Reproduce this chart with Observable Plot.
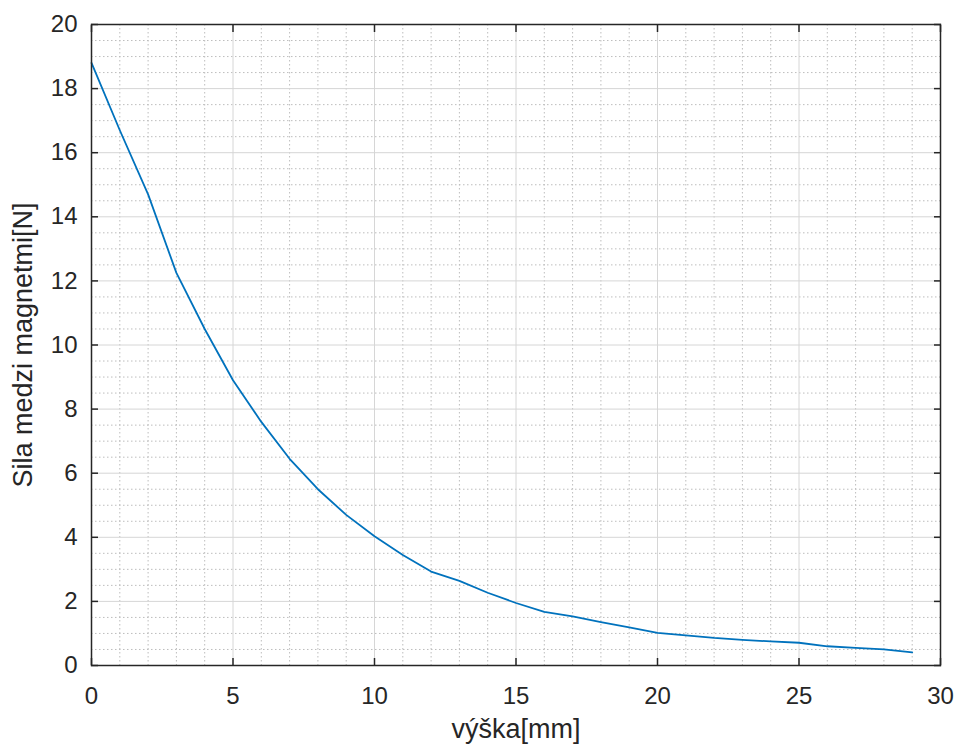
<!DOCTYPE html>
<html>
<head>
<meta charset="utf-8">
<script src="https://cdn.jsdelivr.net/npm/d3@7"></script>
<script src="https://cdn.jsdelivr.net/npm/@observablehq/plot@0.6"></script>
<style>
  html, body { margin: 0; padding: 0; background: #fff; }
  svg { display: block; }
</style>
</head>
<body>
<div id="chart"></div>
<script>
// Data
const heightMm = [0, 1, 2, 3, 4, 5, 6, 7, 8, 9, 10, 11, 12, 13, 14, 15, 16, 17, 18, 19, 20, 21, 22, 23, 24, 25, 26, 27, 28, 29];
const forceN = [18.8, 16.7, 14.7, 12.25, 10.5, 8.9, 7.6, 6.45, 5.5, 4.7, 4.03, 3.45, 2.93, 2.64, 2.27, 1.95, 1.67, 1.53, 1.35, 1.19, 1.02, 0.94, 0.86, 0.8, 0.75, 0.71, 0.6, 0.55, 0.5, 0.41];

const xTicks = [0, 5, 10, 15, 20, 25, 30];
const yTicks = [0, 2, 4, 6, 8, 10, 12, 14, 16, 18, 20];
const xMinorTicks = [1, 2, 3, 4, 6, 7, 8, 9, 11, 12, 13, 14, 16, 17, 18, 19, 21, 22, 23, 24, 26, 27, 28, 29];
const yMinorTicks = [0.5, 1, 1.5, 2.5, 3, 3.5, 4.5, 5, 5.5, 6.5, 7, 7.5, 8.5, 9, 9.5, 10.5, 11, 11.5, 12.5, 13, 13.5, 14.5, 15, 15.5, 16.5, 17, 17.5, 18.5, 19, 19.5];

const xLabel = "výška[mm]";
const yLabel = "Sila medzi magnetmi[N]";

const data = heightMm.map((x, i) => ({x, y: forceN[i]}));

const ink = "#262626";
const tickFont = 24;
const labelFont = 27;

const chart = Plot.plot({
  width: 958,
  height: 746,
  marginLeft: 91,
  marginRight: 18,
  marginTop: 24,
  marginBottom: 81,
  style: {fontFamily: "'Liberation Sans', Arial, Helvetica, sans-serif", background: "#fff", color: ink},
  x: {domain: [0, 30]},
  y: {domain: [0, 20]},
  marks: [
    // minor grid (dotted)
    Plot.gridX(xMinorTicks, {stroke: "#bdbdbd", strokeOpacity: 1, strokeWidth: 1, strokeDasharray: "1.5,2.5"}),
    Plot.gridY(yMinorTicks, {stroke: "#bdbdbd", strokeOpacity: 1, strokeWidth: 1, strokeDasharray: "1.5,2.5"}),
    // major grid (solid)
    Plot.gridX(xTicks, {stroke: "#d6d6d6", strokeOpacity: 1, strokeWidth: 1}),
    Plot.gridY(yTicks, {stroke: "#d6d6d6", strokeOpacity: 1, strokeWidth: 1}),
    // data line
    Plot.line(data, {x: "x", y: "y", stroke: "#0072BD", strokeWidth: 1.8}),
    // box
    Plot.frame({stroke: ink, strokeWidth: 1.5}),
    // inward ticks on all four sides
    Plot.axisX(xTicks, {anchor: "bottom", tickSize: -7, text: null, label: null, stroke: ink, strokeWidth: 1.5}),
    Plot.axisX(xTicks, {anchor: "top", tickSize: -7, text: null, label: null, stroke: ink, strokeWidth: 1.5}),
    Plot.axisY(yTicks, {anchor: "left", tickSize: -7, text: null, label: null, stroke: ink, strokeWidth: 1.5}),
    Plot.axisY(yTicks, {anchor: "right", tickSize: -7, text: null, label: null, stroke: ink, strokeWidth: 1.5}),
    // tick labels
    Plot.axisX(xTicks, {anchor: "bottom", tickSize: 0, tickPadding: 21, label: null, fontSize: tickFont, fill: ink}),
    Plot.axisY(yTicks, {anchor: "left", tickSize: 0, tickPadding: 14, label: null, fontSize: tickFont, fill: ink}),
    // axis titles
    Plot.text([xLabel], {frameAnchor: "bottom", lineAnchor: "middle", textAnchor: "middle", dy: 64, fontSize: labelFont, fill: ink}),
    Plot.text([yLabel], {frameAnchor: "left", lineAnchor: "middle", textAnchor: "middle", dx: -68, rotate: -90, fontSize: labelFont, fill: ink})
  ]
});

document.getElementById("chart").appendChild(chart);
</script>
</body>
</html>
